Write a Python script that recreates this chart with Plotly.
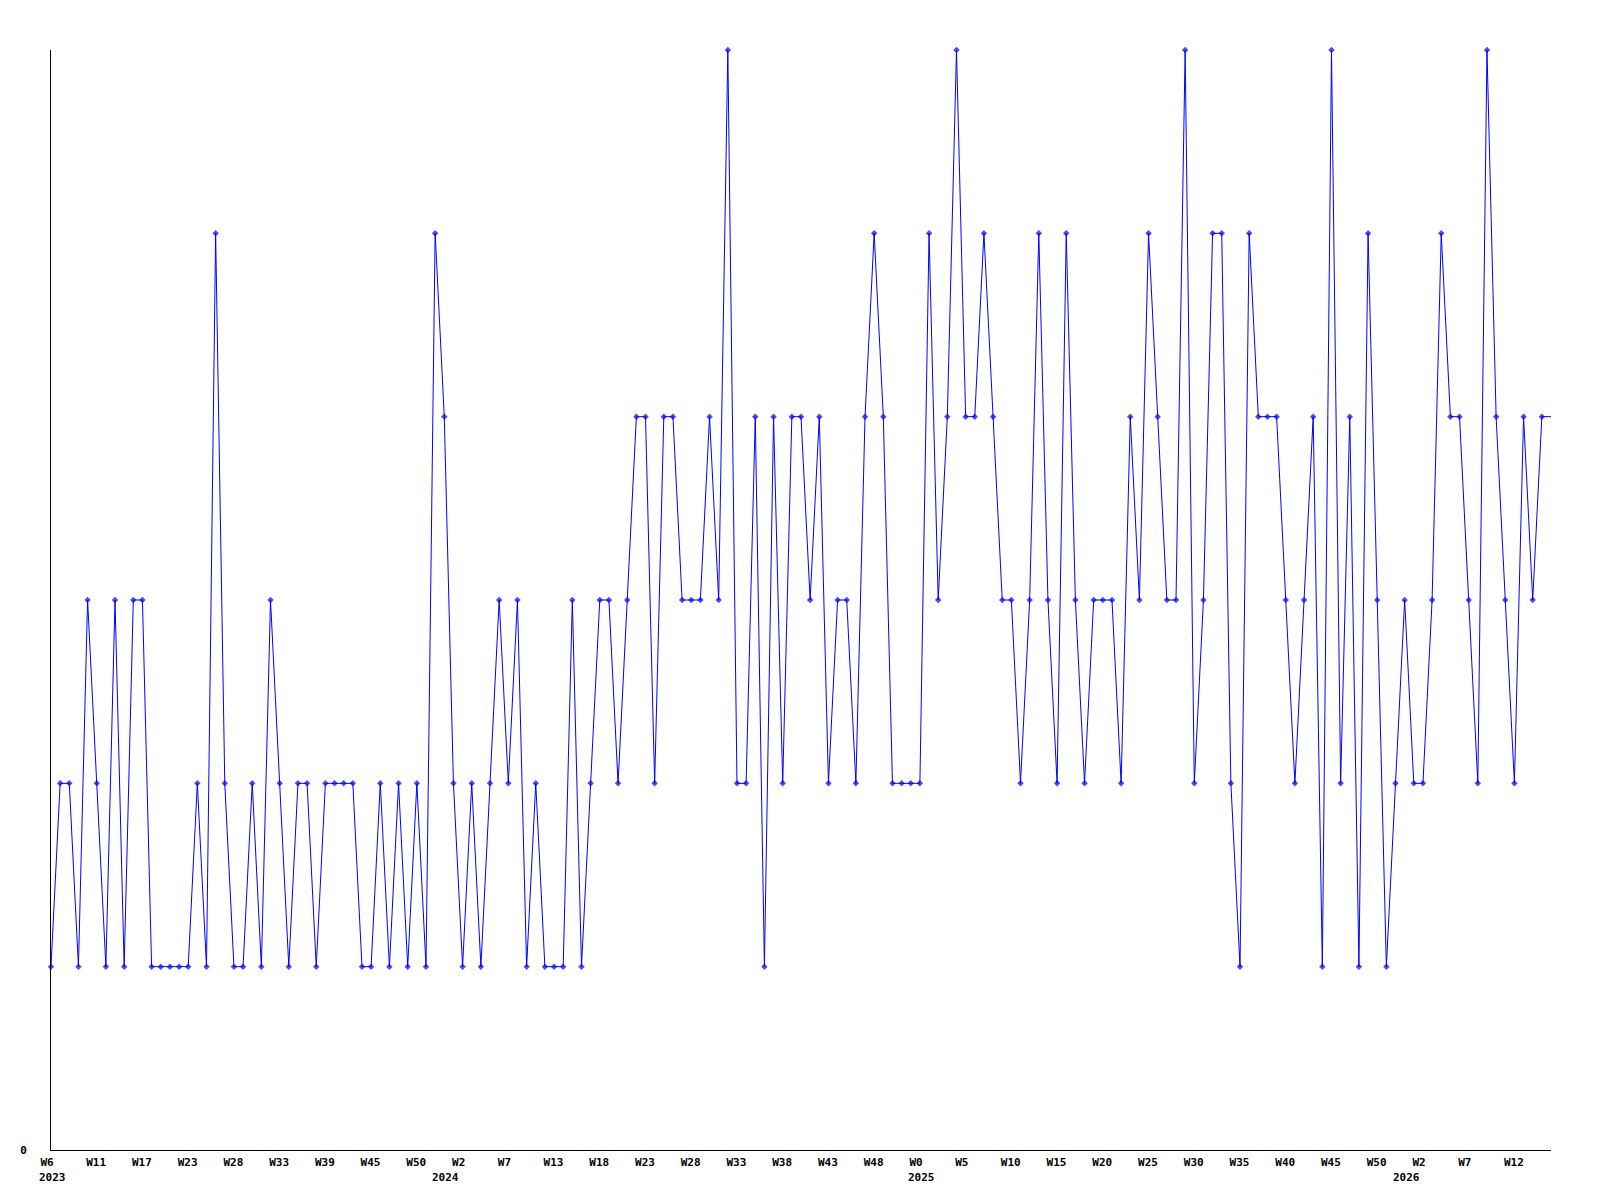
import plotly.graph_objects as go

# Weekly values (one per week, starting at W6 2023)
weekly_values = [
    1, 2, 2, 1, 3, 2, 1, 3, 1, 3, 3, 1, 1, 1, 1, 1, 2, 1, 5, 2, 1, 1, 2, 1, 3, 2, 1, 2,
    2, 1, 2, 2, 2, 2, 1, 1, 2, 1, 2, 1, 2, 1, 5, 4, 2, 1, 2, 1, 2, 3, 2, 3, 1, 2, 1, 1,
    1, 3, 1, 2, 3, 3, 2, 3, 4, 4, 2, 4, 4, 3, 3, 3, 4, 3, 6, 2, 2, 4, 1, 4, 2, 4, 4, 3, 4,
    2, 3, 3, 2, 4, 5, 4, 2, 2, 2, 2, 5, 3, 4, 6, 4, 4, 5, 4, 3, 3, 2, 3, 5, 3, 2, 5, 3,
    2, 3, 3, 3, 2, 4, 3, 5, 4, 3, 3, 6, 2, 3, 5, 5, 2, 1, 5, 4, 4, 4, 3, 2, 3, 4, 1, 6, 2,
    4, 1, 5, 3, 1, 2, 3, 2, 2, 3, 5, 4, 4, 3, 2, 6, 4, 3, 2, 4, 3, 4,
]
# current (partial) week, drawn as line only
partial_week = [4]

# x-axis labels: one every 5 weeks
week_labels = [
    "W6", "W11", "W17", "W23", "W28", "W33", "W39", "W45", "W50",
    "W2", "W7", "W13", "W18", "W23", "W28", "W33", "W38", "W43", "W48",
    "W0", "W5", "W10", "W15", "W20", "W25", "W30", "W35", "W40", "W45", "W50",
    "W2", "W7", "W12",
]
label_step = 5

# year labels (second row) and the week index where each year starts
year_labels = ["2023", "2024", "2025", "2026"]
year_week_index = [0, 43, 95, 148]

values = weekly_values + partial_week
x = list(range(len(values)))
marker_sizes = [5] * len(weekly_values) + [0] * len(partial_week)

tickvals = [i * label_step for i in range(len(week_labels))]

font_family = "DejaVu Sans Mono"
label_font = dict(family=font_family, size=11, color="black", weight="bold")

fig = go.Figure(
    go.Scatter(
        x=x,
        y=values,
        mode="lines+markers",
        line=dict(color="#0000ff", width=1),
        marker=dict(symbol="diamond", size=marker_sizes, color="#0000ff", line=dict(width=0)),
        cliponaxis=False,
        showlegend=False,
        hoverinfo="x+y",
    )
)

for label, idx in zip(year_labels, year_week_index):
    fig.add_annotation(
        x=idx, y=0, xref="x", yref="paper",
        text=label, showarrow=False,
        xanchor="left", yanchor="top",
        xshift=-14, yshift=-19,
        font=label_font,
    )

fig.update_layout(
    width=1600,
    height=1200,
    margin=dict(l=51, r=49, t=50, b=50),
    paper_bgcolor="white",
    plot_bgcolor="white",
    font=label_font,
    xaxis=dict(
        range=[0, len(weekly_values)],
        showgrid=False,
        zeroline=False,
        showline=True,
        linecolor="black",
        linewidth=1,
        tickmode="array",
        tickvals=tickvals,
        ticktext=week_labels,
        ticks="",
        ticklabelposition="outside right",
        ticklabelshift=-11,
        ticklabelstandoff=2,
        tickfont=label_font,
    ),
    yaxis=dict(
        range=[0, 6],
        showgrid=False,
        zeroline=False,
        showline=True,
        linecolor="black",
        linewidth=1,
        tickmode="array",
        tickvals=[0],
        ticktext=["0"],
        ticks="",
        ticklabelstandoff=21,
        tickfont=label_font,
    ),
)

fig.write_html(
    "out.html",
    config={"displayModeBar": False},
    post_script="document.body.style.margin='0';",
)
